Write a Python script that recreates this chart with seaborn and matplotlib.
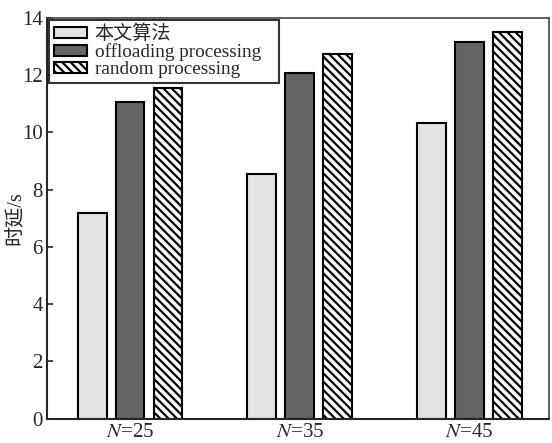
import pandas as pd
import seaborn as sns
import matplotlib.pyplot as plt

# values
groups = ["$N$=25", "$N$=35", "$N$=45"]
methods = ["本文算法", "offloading processing", "random processing"]
ours = [7.18, 8.54, 10.33]
offloading = [11.06, 12.07, 13.16]
random_proc = [11.55, 12.74, 13.50]

df = pd.DataFrame({
    "group": groups * 3,
    "method": [methods[0]] * 3 + [methods[1]] * 3 + [methods[2]] * 3,
    "delay": ours + offloading + random_proc,
})

sns.set_style("ticks")
plt.rcParams["font.family"] = ["Liberation Serif", "Noto Sans CJK SC"]
plt.rcParams["mathtext.fontset"] = "stix"
plt.rcParams["hatch.linewidth"] = 1.6

fig, ax = plt.subplots(figsize=(5.52, 4.43), dpi=100)
sns.barplot(data=df, x="group", y="delay", hue="method",
            palette=["#e3e3e3", "#646464", "white"],
            width=0.67, gap=0.24, edgecolor="black", linewidth=1.5,
            legend=False, ax=ax)

for bar in ax.containers[2]:
    bar.set_hatch("\\\\\\\\")

ax.set_ylim(0, 14)
ax.set_xlim(-0.49, 2.47)
ax.set_yticks(range(0, 15, 2))
ax.set_xlabel("")
ax.set_ylabel("时延/s", fontsize=14.5)
ax.yaxis.set_label_coords(-0.042, 0.5)
ax.tick_params(direction="in", labelsize=15, pad=3)
ax.tick_params(axis="y", length=4, width=1.2)
ax.tick_params(axis="x", length=0)
for side in ["left", "bottom"]:
    ax.spines[side].set_linewidth(1.5)
for side in ["top", "right"]:
    ax.spines[side].set_linewidth(1.2)
    ax.spines[side].set_color("#444444")

leg = ax.legend(ax.containers, methods, loc="upper left", fontsize=13.75,
                bbox_to_anchor=(0.0, 1.0, 0.466, 0.0), mode="expand",
                frameon=True, fancybox=False, edgecolor="black",
                borderaxespad=0.1, handlelength=1.75, handleheight=0.5,
                handletextpad=0.4, labelspacing=0.0, borderpad=0.25)
leg.get_frame().set_linewidth(1.5)

plt.subplots_adjust(left=0.085, right=0.995, top=0.96, bottom=0.055)
plt.savefig("out.png", dpi=100)
